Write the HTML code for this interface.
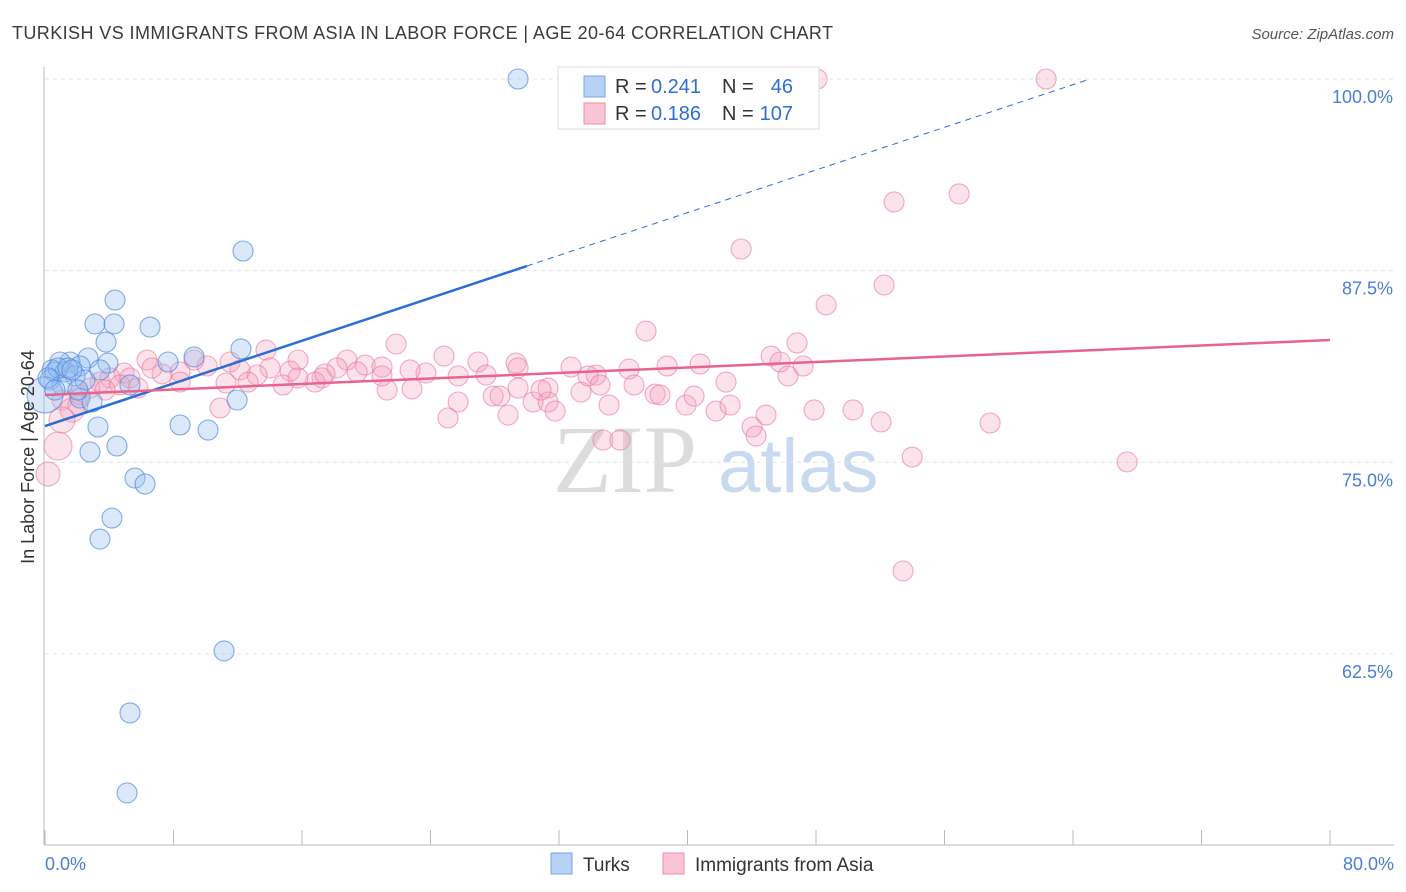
<!DOCTYPE html>
<html><head><meta charset="utf-8">
<style>
body{margin:0;background:#fff;font-family:"Liberation Sans",sans-serif;}
svg{display:block}
</style></head>
<body>
<svg id="chart" width="1406" height="892">
<text x="12" y="39" font-size="18" fill="#3a3a3a" textLength="821" lengthAdjust="spacing">TURKISH VS IMMIGRANTS FROM ASIA IN LABOR FORCE | AGE 20-64 CORRELATION CHART</text>
<text x="1394" y="39" font-size="15" fill="#555" font-style="italic" text-anchor="end">Source: ZipAtlas.com</text>
<g>
<text x="553" y="492" font-size="96" fill="#dcdcdc" font-family="Liberation Serif,serif">ZIP</text>
<text x="718" y="492" font-size="76" fill="#c9daf0">atlas</text>
</g>
<g id="grid"></g>
<g id="axes"></g>
<g id="marks"></g>
<text transform="translate(34,457) rotate(-90)" font-size="18" fill="#333" text-anchor="middle">In Labor Force | Age 20-64</text>
<text x="45" y="870" font-size="18" fill="#4a7fd6">0.0%</text>
<text x="1394" y="870" font-size="18" fill="#4a7fd6" text-anchor="end">80.0%</text>
<g>
<rect x="558" y="67" width="261" height="62" fill="#fff" stroke="#ddd"/>
<rect x="584" y="76" width="21" height="21" fill="#b8d2f5" stroke="#7aa6e6"/>
<rect x="584" y="103" width="21" height="21" fill="#f9c5d5" stroke="#ee8aaa"/>
<text x="615" y="93" font-size="20" fill="#333">R =</text>
<text x="651" y="93" font-size="20" fill="#2f6fd6">0.241</text>
<text x="722" y="93" font-size="20" fill="#333">N =</text>
<text x="793" y="93" font-size="20" fill="#2f6fd6" text-anchor="end">46</text>
<text x="615" y="120" font-size="20" fill="#333">R =</text>
<text x="651" y="120" font-size="20" fill="#2f6fd6">0.186</text>
<text x="722" y="120" font-size="20" fill="#333">N =</text>
<text x="793" y="120" font-size="20" fill="#2f6fd6" text-anchor="end">107</text>
</g>
<g>
<rect x="551" y="853" width="21" height="21" fill="#b8d2f5" stroke="#7aa6e6"/>
<text x="583" y="871" font-size="19" fill="#333">Turks</text>
<rect x="663" y="853" width="21" height="21" fill="#f9c5d5" stroke="#ee8aaa"/>
<text x="695" y="871" font-size="19" fill="#333">Immigrants from Asia</text>
</g>
</svg>
<script>
const yTicks=[100,87.5,75,62.5];
const yTickLabels=["100.0%","87.5%","75.0%","62.5%"];
const xTicks=[0,8,16,24,32,40,48,56,64,72,80];
const turksX=[29.45,12.33,4.36,3.11,4.30,6.54,3.80,12.20,9.28,7.66,2.68,1.56,0.93,2.18,3.92,0.44,0.62,1.25,1.87,0.31,2.49,5.29,1.06,0,2.18,2.93,11.96,8.41,10.15,3.30,4.48,2.80,5.60,6.23,4.17,3.42,11.15,5.29,5.11,0.81,1.43,1.68,3.42,0.19,2.05,0.62];
const turksY=[100,88.78,85.58,84.02,84.02,83.82,82.84,82.39,81.87,81.54,81.80,81.54,81.54,81.28,81.47,81.02,80.89,80.89,80.63,80.37,80.37,80.04,80.04,79.39,79.19,78.93,79.06,77.43,77.10,77.30,76.06,75.67,73.97,73.58,71.36,69.99,62.69,58.65,53.43,81.15,81.15,81.02,81.02,80.50,79.71,79.71];
const turksR=[10,10,10,10,10,10,10,10,10,10,10,10,10,10,10,10,10,10,10,10,10,10,10,18,10,10,10,10,10,10,10,10,10,10,10,10,10,10,10,10,10,10,10,10,10,10];
const asiaX=[48.07,62.33,56.91,52.86,43.34,52.24,48.63,37.42,21.86,46.82,13.76,11.52,6.35,9.28,15.75,18.80,19.93,24.84,26.96,29.33,32.75,36.36,38.73,40.78,45.21,45.77,47.20,46.26,42.40,36.67,31.32,34.31,29.45,27.46,25.72,23.72,22.73,20.98,19.43,18.18,17.25,16.81,15.26,14.01,13.20,12.14,11.27,10.09,8.41,7.29,6.66,4.92,5.29,5.79,4.05,3.42,2.80,4.67,3.74,2.18,1.06,2.05,1.68,1.06,0.81,0.19,12.64,14.82,21.30,22.85,20.98,15.75,17.43,25.72,25.09,27.90,28.33,28.83,30.39,31.32,30.88,33.37,31.76,35.12,34.74,35.80,37.98,38.29,39.91,40.41,41.78,42.65,44.02,44.27,44.89,47.88,50.31,52.05,53.99,53.42,58.84,67.37,10.90,33.81,29.45,34.56,8.41];
const asiaY=[100,100,92.50,91.98,88.91,86.56,85.26,83.56,82.71,82.78,82.32,81.54,81.67,81.67,81.67,81.67,81.34,81.93,81.54,81.47,81.21,81.08,81.28,81.41,81.93,81.54,81.28,80.63,80.23,80.04,79.84,80.69,81.15,80.69,80.63,80.82,81.02,81.21,80.89,81.15,80.50,80.23,80.95,81.15,80.69,81.02,80.17,81.28,80.89,80.76,81.15,80.82,80.50,79.84,80.50,80.23,79.84,80.04,79.71,79.39,79.06,78.73,78.41,77.76,76.06,74.23,80.23,80.04,79.71,79.78,80.63,80.50,80.76,78.93,77.89,79.32,79.32,78.08,78.93,78.93,79.71,79.58,78.34,78.73,76.45,76.45,79.45,79.39,78.73,79.32,78.34,78.73,77.30,76.71,78.08,78.41,78.41,77.63,75.34,67.91,77.56,75.02,78.54,80.63,79.84,80.04,80.23];
const asiaR=[10,10,10,10,10,10,10,10,10,10,10,10,10,10,10,10,10,10,10,10,10,10,10,10,10,10,10,10,10,10,10,10,10,10,10,10,10,10,10,10,10,10,10,10,10,10,10,10,10,10,10,10,10,10,10,10,10,10,10,10,10,10,12,13,14,12,10,10,10,10,10,10,10,10,10,10,10,10,10,10,10,10,10,10,10,10,10,10,10,10,10,10,10,10,10,10,10,10,10,10,10,10,10,10,10,10,10];
const turksTrend=[77.36,0.348];
const asiaTrend=[79.39,0.0448];

const NS="http://www.w3.org/2000/svg";
const X=v=>45+v*1285/80;
const Y=v=>79+(100-v)*15.33;
function mk(tag,attrs,parent){const e=document.createElementNS(NS,tag);for(const k in attrs)e.setAttribute(k,attrs[k]);parent.appendChild(e);return e;}
const grid=document.getElementById('grid'),axes=document.getElementById('axes'),marks=document.getElementById('marks');
yTicks.forEach((t,i)=>{
 const l=mk('line',{x1:45,x2:1394,y1:Y(t),y2:Y(t),stroke:'#e3e3e3','stroke-dasharray':'4,4'},grid);
 
 
 const tx=mk('text',{x:1393,y:Y(t)+24,'font-size':18,fill:'#4a7fd6','text-anchor':'end'},grid);
 tx.textContent=yTickLabels[i];
 
 
});
const ya=mk('line',{x1:44,x2:44,y1:67,y2:845,stroke:'#bbb'},axes);


const xa=mk('line',{x1:44,x2:1394,y1:845,y2:845,stroke:'#bbb'},axes);


xTicks.forEach(t=>{
 const l=mk('line',{x1:X(t),x2:X(t),y1:830,y2:845,stroke:'#bbb'},axes);
 
 
});
asiaX.forEach((v,i)=>{
 const c=mk('circle',{cx:X(v),cy:Y(asiaY[i]),r:asiaR[i],fill:'rgba(246,160,188,0.3)',stroke:'rgba(232,120,155,0.6)','stroke-width':1.1},marks);
 
 
});
turksX.forEach((v,i)=>{
 const c=mk('circle',{cx:X(v),cy:Y(turksY[i]),r:turksR[i],fill:'rgba(150,190,240,0.35)',stroke:'rgba(70,130,220,0.65)','stroke-width':1.1},marks);
 
 
});
const tEnd=(100-turksTrend[0])/turksTrend[1];
const tl=mk('line',{x1:X(0),y1:Y(turksTrend[0]),x2:X(30),y2:Y(turksTrend[0]+30*turksTrend[1]),stroke:'#2a6fd6','stroke-width':2.5},marks);


const td=mk('line',{x1:X(30),y1:Y(turksTrend[0]+30*turksTrend[1]),x2:X(tEnd),y2:Y(100),stroke:'#2a6fd6','stroke-width':1,'stroke-dasharray':'6,5'},marks);


const al=mk('line',{x1:X(0),y1:Y(asiaTrend[0]),x2:X(80),y2:Y(asiaTrend[0]+80*asiaTrend[1]),stroke:'#e8638e','stroke-width':2.5},marks);


</script>
</body></html>
